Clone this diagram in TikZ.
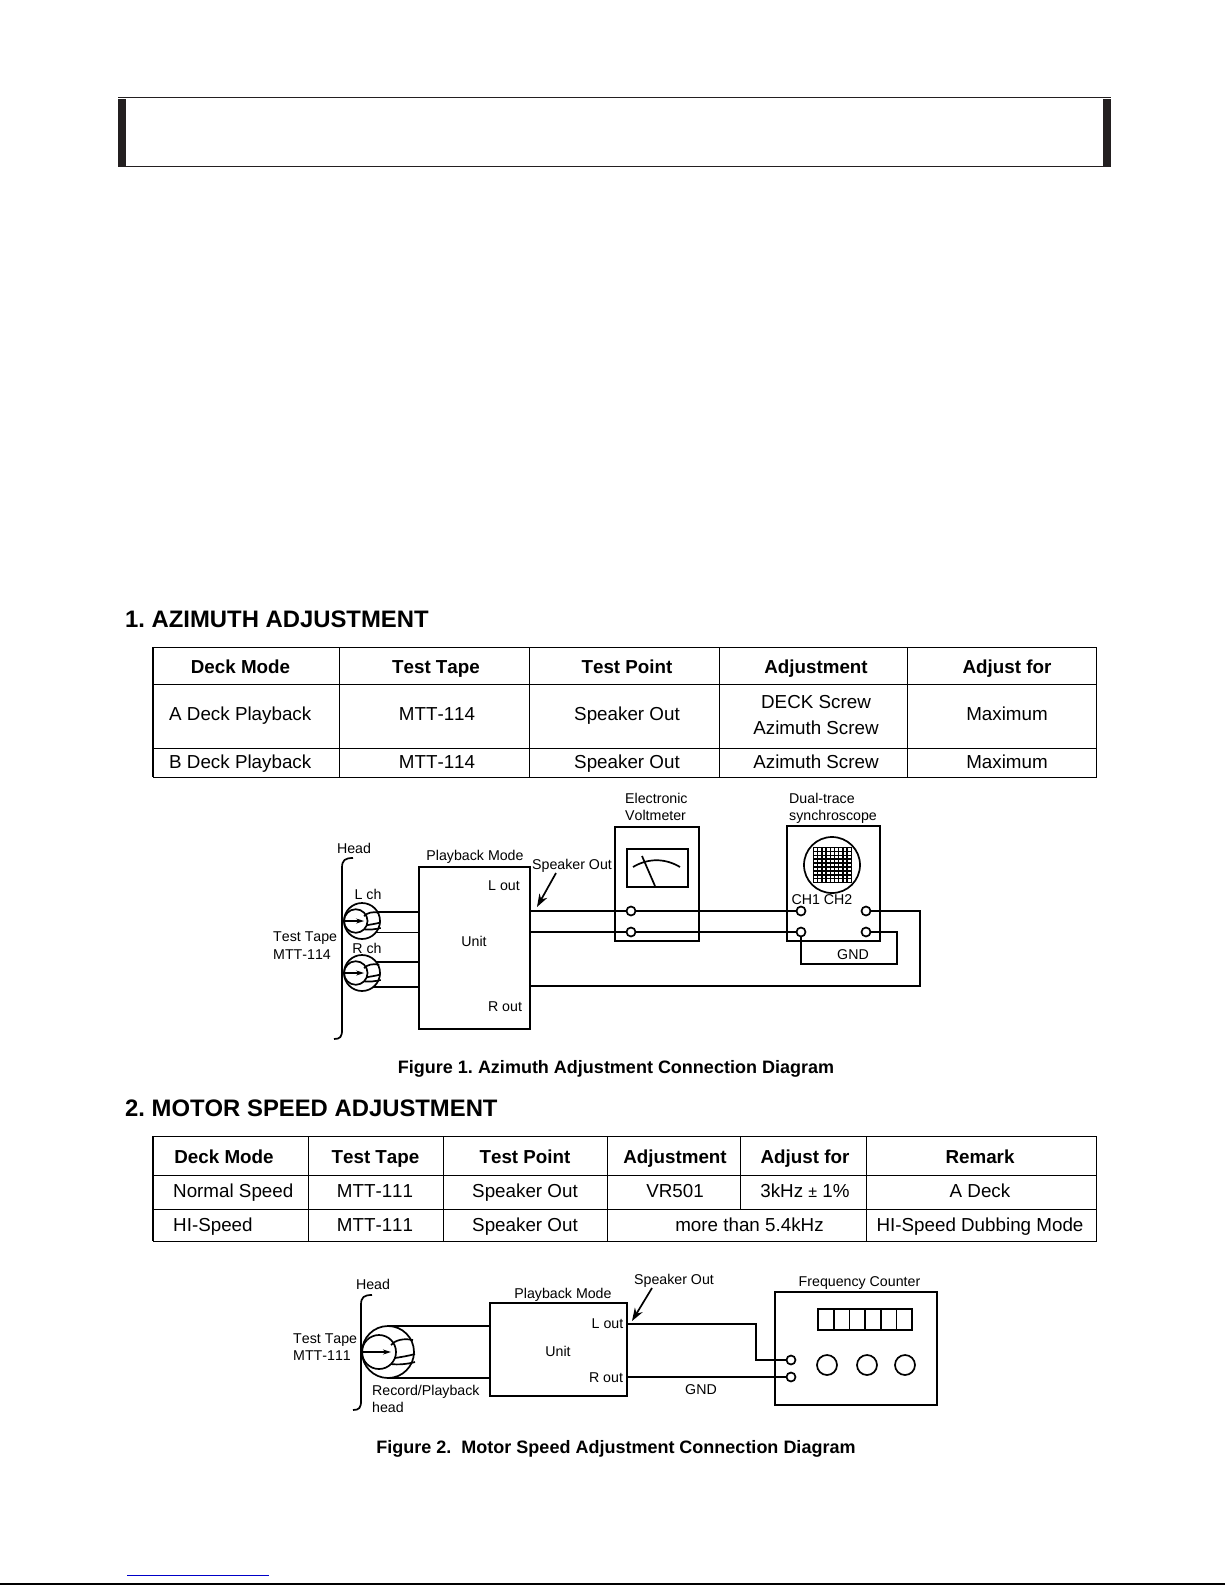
\documentclass[tikz,border=0pt]{standalone}
\usepackage{fontspec}
\setmainfont[Kerning=Off]{Liberation Sans}
\usepackage{xcolor}
\usepackage{tikz}
\usetikzlibrary{arrows.meta,positioning}
\definecolor{barc}{HTML}{231F20}
\definecolor{linkc}{HTML}{0000C8}
\frenchspacing
\tikzset{
  wire/.style={line width=1.7pt,black},
  tline/.style={line width=0.9pt,black},
  ar/.style={-{Stealth[length=13pt,width=9pt]},line width=1.7pt},
  box/.style={draw,line width=1.7pt,anchor=north west,inner sep=0,outer sep=0},
  term/.style={circle,draw,line width=1.7pt,minimum size=9pt,inner sep=0},
  knob/.style={circle,draw,line width=1.7pt,minimum size=20pt,inner sep=0},
  lab/.style={font=\fontsize{14.2}{17}\selectfont,inner sep=0,text height=10.2pt,text depth=0pt},
  cell/.style={font=\fontsize{18.8}{22}\selectfont,inner sep=0,text height=13.6pt,text depth=0pt},
  thd/.style={cell,font=\fontsize{18.8}{22}\selectfont\bfseries},
  sec/.style={font=\fontsize{23.85}{27}\selectfont\bfseries,inner sep=0,anchor=west,text height=17pt,text depth=0pt},
  figcap/.style={font=\fontsize{18}{21}\selectfont\bfseries,inner sep=0,text height=12.9pt,text depth=0pt}
}
% head symbol: name, x, y, radius
\newcommand{\headsym}[4]{
  \node[circle,draw,line width=1.7pt,inner sep=0,outer sep=0,minimum size=#4*2pt] (#1) at (#2,#3) {};
  \begin{scope}[shift={(#2,#3)},scale=#4/26]
    \draw[wire] (-9,0) circle (17);
    \draw[wire,-{Stealth[length=8pt,width=5pt]}] (-25,0) -- (3,0);
    \draw[wire] (3,-7) .. controls (7,-12) and (16,-14) .. (25,-12);
    \draw[wire] (7,6) .. controls (13,5) and (20,4) .. (27,2);
    \draw[wire] (3,12) .. controls (10,13) and (20,12) .. (27,10);
  \end{scope}
}
% brace of the head: x, top, bottom
\newcommand{\headbrace}[3]{
  \draw[wire] (#1+11,#2) .. controls (#1+3,#2) and (#1,#2+2) .. (#1,#2+10) -- (#1,#3-9)
    .. controls (#1,#3-2) and (#1-2,#3) .. (#1-8,#3);
}
\begin{document}
\begin{tikzpicture}[x=1pt,y=-1pt]
\useasboundingbox (0,0) rectangle (1225,1585);
% title band
\draw[barc,line width=1pt] (118,97.5) -- (1111,97.5);
\draw[barc,line width=1.2pt] (118,166.5) -- (1111,166.5);
\fill[barc] (118,99) rectangle (126,167);
\fill[barc] (1103,99) rectangle (1111,167);
% page foot
\draw[linkc,line width=1pt] (127,1575) -- (269,1575);
\draw[black,line width=1.2pt] (0,1584) -- (1225,1584);

% table 1
\node[sec] (secone) at (125,619) {1. AZIMUTH ADJUSTMENT};
\draw[tline] (153,647) rectangle (1096,777);
\draw[wire] (153,647) -- (153,777);
\foreach \y in {684,748} \draw[tline] (153,\y) -- (1096,\y);
\foreach \x in {339,529,719,907} \draw[tline] (\x,647) -- (\x,777);
\foreach \x/\t [count=\i] in {240.5/Deck Mode,436/Test Tape,627/Test Point,816/Adjustment,1007/Adjust for}
  \node[thd] (ha\i) at (\x,667) {\t};
\node[cell,anchor=west] (adeck) at (169,714) {A Deck Playback};
\node[cell] (atape) at (437,714) {MTT-114};
\node[cell] (apoint) at (627,714) {Speaker Out};
\node[cell] (adj) at (816,702) {DECK Screw};
\node[cell] (aadj) at (816,728) {Azimuth Screw};
\node[cell] (amax) at (1007,714) {Maximum};
\node[cell,anchor=west] (bdeck) at (169,762) {B Deck Playback};
\node[cell] (btape) at (437,762) {MTT-114};
\node[cell] (bpoint) at (627,762) {Speaker Out};
\node[cell] (badj) at (816,762) {Azimuth Screw};
\node[cell] (bmax) at (1007,762) {Maximum};

% figure 1
\node[box,minimum width=111pt,minimum height=162pt] (unita) at (419,867) {};
\node[box,minimum width=84pt,minimum height=114pt] (volt) at (615,827) {};
\node[box,minimum width=61pt,minimum height=38pt] (meter) at (627,849) {};
\node[box,minimum width=93pt,minimum height=115pt] (scope) at (787,826) {};
\node[circle,draw,line width=1.7pt,minimum size=56pt,inner sep=0] (screen) at (832,865) {};
\foreach \i in {0,...,9} \draw[line width=1.5pt] (813.5+\i*4.2,847) -- (813.5+\i*4.2,883);
\foreach \i in {0,...,9} \draw[line width=1.5pt] (813,847.5+\i*3.9) -- (852,847.5+\i*3.9);
\draw[wire] (642,856) -- (655,886);
\draw[wire] (633,867) .. controls (648,858) and (665,858) .. (680,867);
\node[term] (vtop) at (631,911) {};
\node[term] (vbot) at (631,932) {};
\node[term] (chone) at (801,911) {};
\node[term] (gndl) at (801,932) {};
\node[term] (chtwo) at (866,911) {};
\node[term] (gndr) at (866,932) {};
\coordinate (gndc) at (897,964);
\coordinate (routc) at (920,986);
\draw[wire] (unita.east |- vtop) -- (vtop) -- (chone);
\draw[wire] (unita.east |- vbot) -- (vbot) -- (gndl);
\draw[wire] (chtwo) -| (routc) -- (unita.east |- routc);
\draw[wire] (gndl) |- (gndc) |- (gndr);
\headsym{hl}{362}{921}{18}
\headsym{hr}{362}{973}{18}
\draw[wire] (hl.30) -- (hl.30 -| unita.west);
\draw[wire] (hl.-40) -- (hl.-40 -| unita.west);
\draw[wire] (hr.37) -- (hr.37 -| unita.west);
\draw[wire] (hr.-51) -- (hr.-51 -| unita.west);
\headbrace{342}{858}{1039}
\coordinate (spa) at (556,873);
\coordinate (spb) at (537,907);
\draw[ar] (spa) -- (spb);
\node[lab] (heada) at (354,848) {Head};
\node[lab] (pba) at (475,855) {Playback Mode};
\node[lab] (spka) at (572,864) {Speaker Out};
\node[lab] (louta) at (504,885) {L out};
\node[lab] (unta) at (474,941) {Unit};
\node[lab] (routa) at (505,1006) {R out};
\node[lab] (lch) at (368,894) {L ch};
\node[lab] (rch) at (367,948) {R ch};
\node[lab,anchor=west] (tta) at (273,936) {Test Tape};
\node[lab,anchor=west] (mtta) at (273,954) {MTT-114};
\node[lab,anchor=west] (elec) at (625,798) {Electronic};
\node[lab,anchor=west] (voltl) at (625,815) {Voltmeter};
\node[lab,anchor=west] (dual) at (789,798) {Dual-trace};
\node[lab,anchor=west] (sync) at (789,815) {synchroscope};
\node[lab] (chs) at (822,899) {CH1 CH2};
\node[lab] (gnda) at (853,954) {GND};
\node[figcap] (capa) at (616,1067) {Figure 1. Azimuth Adjustment Connection Diagram};

% table 2
\node[sec] (sectwo) at (125,1108) {2. MOTOR SPEED ADJUSTMENT};
\draw[tline] (153,1136) rectangle (1096,1241);
\draw[wire] (153,1136) -- (153,1241);
\foreach \y in {1175,1209} \draw[tline] (153,\y) -- (1096,\y);
\foreach \x in {308,443,607,866} \draw[tline] (\x,1136) -- (\x,1241);
\draw[tline] (740,1136) -- (740,1209);
\foreach \x/\t [count=\i] in {224/Deck Mode,375.5/Test Tape,525/Test Point,675/Adjustment,805/Adjust for,980/Remark}
  \node[thd] (hb\i) at (\x,1157) {\t};
\node[cell,anchor=west] (ndeck) at (173,1191) {Normal Speed};
\node[cell] (ntape) at (375,1191) {MTT-111};
\node[cell] (npoint) at (525,1191) {Speaker Out};
\node[cell] (nadj) at (675,1191) {VR501};
\node[cell] (nfor) at (805,1191) {3kHz {\fontsize{16}{17}\selectfont ±} 1\%};
\node[cell] (nrem) at (980,1191) {A Deck};
\node[cell,anchor=west] (hdeck) at (173,1225) {HI-Speed};
\node[cell] (htape) at (375,1225) {MTT-111};
\node[cell] (hpoint) at (525,1225) {Speaker Out};
\node[cell] (hadj) at (749.5,1225) {more than 5.4kHz};
\node[cell] (hrem) at (980,1225) {HI-Speed Dubbing Mode};

% figure 2
\node[box,minimum width=137pt,minimum height=93pt] (unitb) at (490,1303) {};
\node[box,minimum width=162pt,minimum height=113pt] (freq) at (775,1292) {};
\foreach \i in {0,...,5} \node[box,minimum width=15.7pt,minimum height=21pt] (dig\i) at (818+\i*15.7,1309) {};
\foreach \x [count=\i] in {827,867,905} \node[knob] (kn\i) at (\x,1365) {};
\node[term] (ftop) at (791,1360) {};
\node[term] (fbot) at (791,1377) {};
\coordinate (lturn) at (756,1324);
\headsym{hm}{388}{1352}{26}
\draw[wire] (hm.north) -- (hm.north -| unitb.west);
\draw[wire] (hm.south) -- (hm.south -| unitb.west);
\draw[wire] (unitb.east |- lturn) -- (lturn) |- (ftop);
\draw[wire] (unitb.east |- fbot) -- (fbot);
\headbrace{361}{1295}{1410}
\coordinate (spc) at (652,1288);
\coordinate (spd) at (632,1321);
\draw[ar] (spc) -- (spd);
\node[lab] (headb) at (373,1284) {Head};
\node[lab] (pbb) at (563,1293) {Playback Mode};
\node[lab] (loutb) at (607.5,1323) {L out};
\node[lab] (routb) at (606,1377) {R out};
\node[lab] (untb) at (558,1351) {Unit};
\node[lab,anchor=west] (ttb) at (293,1338) {Test Tape};
\node[lab,anchor=west] (mttb) at (293,1355) {MTT-111};
\node[lab,anchor=west] (rec) at (372,1390) {Record/Playback};
\node[lab,anchor=west] (recb) at (372,1407) {head};
\node[lab] (spkb) at (674,1279) {Speaker Out};
\node[lab] (frq) at (859.5,1281) {Frequency Counter};
\node[lab] (gndb) at (701,1389) {GND};
\node[figcap] (capb) at (616,1447) {Figure 2.\ \ Motor Speed Adjustment Connection Diagram};
\end{tikzpicture}
\end{document}
